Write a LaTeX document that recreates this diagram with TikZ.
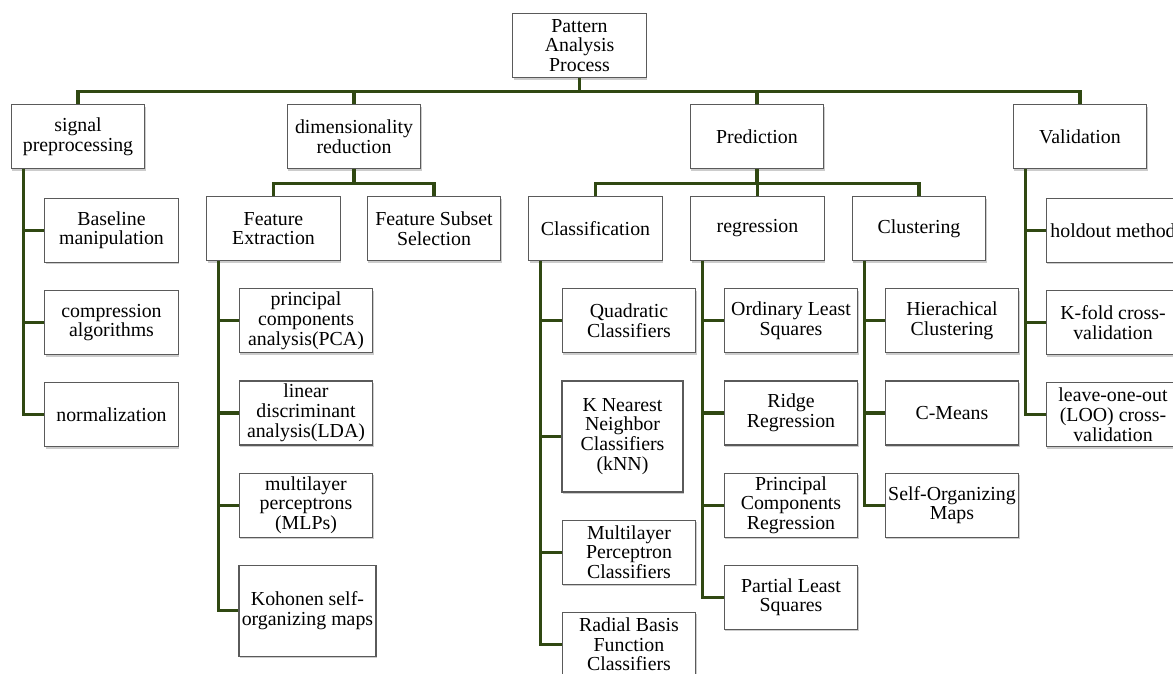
\documentclass[tikz,border=0pt]{standalone}
\usepackage{fontspec}
\setmainfont{Liberation Serif}
\usepackage{tikz}
\usetikzlibrary{positioning,shadows}
\definecolor{branchgreen}{RGB}{48,72,18}
\definecolor{boxline}{RGB}{90,90,90}
\tikzset{
  box/.style={draw=boxline, line width=0.7pt, fill=white, align=center,
    minimum width=2.67cm, minimum height=1.28cm, inner sep=1pt,
    font=\fontsize{11.3}{11.2}\selectfont,
    drop shadow={shadow xshift=0.5pt, shadow yshift=-1.2pt, opacity=0.4}},
  branch/.style={draw=branchgreen, line width=1.8pt}
}
\begin{document}
\begin{tikzpicture}[x=0.02cm, y=-0.02cm, node distance=0.54cm]
        \useasboundingbox (0,0) rectangle (1173,673);
        \node[box] (PAP) at (579.5,45.5) {Pattern\\Analysis\\Process};
        \node[box] (sig) at (78,136.5) {signal\\preprocessing};
        \node[box] (dim) at (354,136.5) {dimensionality\\reduction};
        \node[box] (pred) at (757,136.5) {Prediction};
        \node[box] (val) at (1080,136.5) {Validation};

        \node[box] (FE) at (273.5,228.5) {Feature\\Extraction};
        \node[box] (FSS) at (434,228.5) {Feature Subset\\Selection};
        \node[box] (cls) at (595.5,228.5) {Classification};
        \node[box] (reg) at (757.5,228.5) {regression};
        \node[box] (clu) at (919,228.5) {Clustering};

        \node[box, below=0.57cm of sig, xshift=0.67cm] (base) {Baseline\\manipulation};
        \node[box, below=of base] (comp) {compression\\algorithms};
        \node[box, below=of comp] (norm) {normalization};

        \node[box, below=of FE, xshift=0.65cm] (PCA) {principal\\components\\analysis(PCA)};
        \node[box, below=of PCA] (LDA) {linear\\discriminant\\analysis(LDA)};
        \node[box, below=of LDA] (MLP) {multilayer\\perceptrons\\(MLPs)};
        \node[box, below=of MLP, xshift=0.03cm, minimum width=2.74cm,
          minimum height=1.82cm] (SOMk) {Kohonen self-\\organizing maps};

        \node[box, below=of cls, xshift=0.67cm] (QC) {Quadratic\\Classifiers};
        \node[box, below=of QC, xshift=-0.13cm, minimum width=2.42cm,
          minimum height=2.22cm] (kNN) {K Nearest\\Neighbor\\Classifiers\\(kNN)};
        \node[box, below=of kNN, xshift=0.13cm] (MPC) {Multilayer\\Perceptron\\Classifiers};
        \node[box, below=of MPC] (RBF) {Radial Basis\\Function\\Classifiers};

        \node[box, below=of reg, xshift=0.67cm] (OLS) {Ordinary Least\\Squares};
        \node[box, below=of OLS] (RR) {Ridge\\Regression};
        \node[box, below=of RR] (PCR) {Principal\\Components\\Regression};
        \node[box, below=of PCR] (PLS) {Partial Least\\Squares};

        \node[box, below=of clu, xshift=0.66cm] (HC) {Hierachical\\Clustering};
        \node[box, below=of HC] (CM) {C-Means};
        \node[box, below=of CM] (SOMc) {Self-Organizing\\Maps};

        \node[box, below=0.57cm of val, xshift=0.66cm] (HO) {holdout method};
        \node[box, below=of HO] (KF) {K-fold cross-\\validation};
        \node[box, below=of KF] (LOO) {leave-one-out\\(LOO) cross-\\validation};

        \foreach \c in {sig,dim,pred,val}
          \draw[branch] (PAP.south) -- ++(0,13) -| (\c.north);
        \foreach \c in {FE,FSS}
          \draw[branch] (dim.south) -- ++(0,14) -| (\c.north);
        \foreach \c in {cls,reg,clu}
          \draw[branch] (pred.south) -- ++(0,14) -| (\c.north);
        \foreach \p/\c in {sig/base,sig/comp,sig/norm,FE/PCA,FE/LDA,FE/MLP,FE/SOMk,
          cls/QC,cls/kNN,cls/MPC,cls/RBF,reg/OLS,reg/RR,reg/PCR,reg/PLS,
          clu/HC,clu/CM,clu/SOMc,val/HO,val/KF,val/LOO}
          \draw[branch] ([xshift=0.25cm]\p.south west) |- (\c.west);
\end{tikzpicture}
\end{document}
